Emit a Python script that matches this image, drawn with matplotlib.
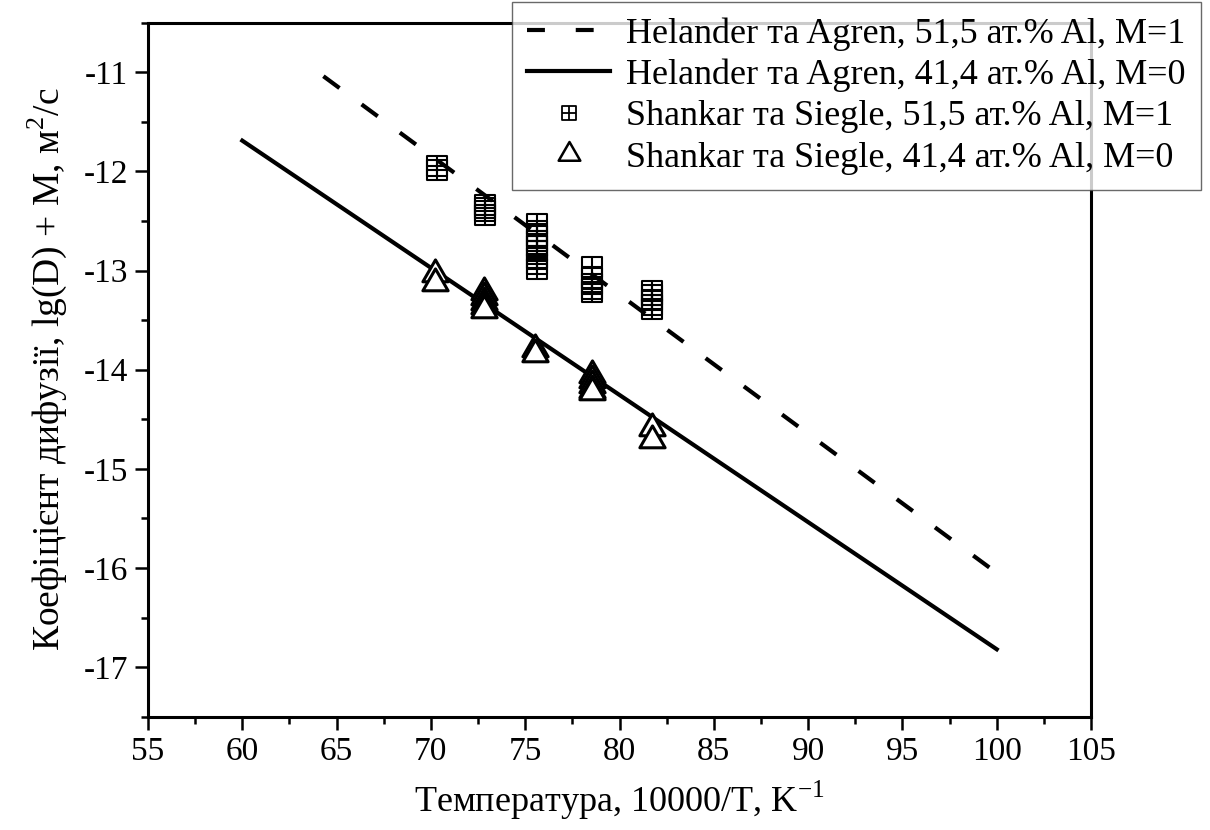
import numpy as np
import matplotlib
matplotlib.use("Agg")
import matplotlib.pyplot as plt
from matplotlib.path import Path
from matplotlib.lines import Line2D
from matplotlib.ticker import MultipleLocator

plt.rcParams['font.family'] = ['Liberation Serif', 'DejaVu Serif']
plt.rcParams['mathtext.fontset'] = 'custom'
plt.rcParams['mathtext.rm'] = 'Liberation Serif'
plt.rcParams['axes.unicode_minus'] = False

# Helander ta Agren model lines (endpoints)
hel_515_x = [64.3, 100.0]
hel_515_y = [-11.04, -16.05]
hel_414_x = [60.0, 100.0]
hel_414_y = [-11.69, -16.82]

# Shankar ta Siegle, 51.5 at.% Al, M=1
sh_515_x = [70.31, 70.31,
            72.87, 72.87, 72.87, 72.87,
            75.61, 75.61, 75.61, 75.61, 75.61, 75.61, 75.61, 75.61, 75.61,
            78.56, 78.56, 78.56, 78.56, 78.56,
            81.74, 81.74, 81.74, 81.74, 81.74]
sh_515_y = [-11.95, -11.99,
            -12.34, -12.37, -12.40, -12.44,
            -12.53, -12.60, -12.65, -12.70, -12.75, -12.80, -12.87, -12.93, -12.98,
            -12.96, -13.08, -13.14, -13.19, -13.22,
            -13.21, -13.25, -13.30, -13.35, -13.39]

# Shankar ta Siegle, 41.4 at.% Al, M=0
sh_414_x = [70.21, 70.21,
            72.82, 72.82, 72.82, 72.82, 72.82,
            75.52, 75.52,
            78.56, 78.56, 78.56, 78.56, 78.56,
            81.74, 81.74]
sh_414_y = [-13.04, -13.13,
            -13.22, -13.27, -13.32, -13.36, -13.40,
            -13.79, -13.84,
            -14.05, -14.10, -14.15, -14.20, -14.23,
            -14.59, -14.71]

# marker shapes
sq_plus = Path([(-1, -1), (1, -1), (1, 1), (-1, 1), (-1, -1),
                (0, -1), (0, 1), (-1, 0), (1, 0)],
               [Path.MOVETO, Path.LINETO, Path.LINETO, Path.LINETO, Path.CLOSEPOLY,
                Path.MOVETO, Path.LINETO, Path.MOVETO, Path.LINETO])
tri = Path([(0, 1), (-0.866, -0.5), (0.866, -0.5), (0, 1)],
           [Path.MOVETO, Path.LINETO, Path.LINETO, Path.CLOSEPOLY])

fig = plt.figure(figsize=(12.1, 8.3), dpi=100)
ax = fig.add_axes([0.1223, 0.1365, 0.7794, 0.8362])

dash = (0, (4.8, 6.6))
ax.plot(hel_515_x, hel_515_y, color='black', lw=3, linestyle=dash, zorder=3)
ax.plot(hel_414_x, hel_414_y, color='black', lw=3, zorder=3)

ax.plot(sh_515_x, sh_515_y, linestyle='none', marker=sq_plus, ms=14,
        mfc='none', mec='black', mew=1.5, zorder=2)
# draw triangles top-to-bottom, each white filled
for xv, yv in zip(sh_414_x, sh_414_y):
    ax.plot([xv], [yv], linestyle='none', marker=tri, ms=21,
            mfc='white', mec='black', mew=2.2, zorder=4)

ax.set_xlim(55, 105)
ax.set_ylim(-17.5, -10.5)
ax.xaxis.set_major_locator(MultipleLocator(5))
ax.xaxis.set_minor_locator(MultipleLocator(2.5))
ax.yaxis.set_major_locator(MultipleLocator(1))
ax.yaxis.set_minor_locator(MultipleLocator(0.5))
ax.tick_params(which='both', direction='out', width=1.8, labelsize=24)
ax.tick_params(which='major', length=9.5, pad=5)
ax.tick_params(which='minor', length=5)
for s in ax.spines.values():
    s.set_linewidth(2.2)

ax.set_xlabel('Температура, 10000/T, K$^{-1}$', fontsize=26, labelpad=8)
ax.set_ylabel('Коефіцієнт дифузії, lg(D) + M, м$^{2}$/с', fontsize=27, labelpad=10)

handles = [
    Line2D([], [], color='black', lw=3, linestyle=(0, (4.3, 7.4))),
    Line2D([], [], color='black', lw=3),
    Line2D([], [], linestyle='none', marker=sq_plus, ms=9.5, mfc='none', mec='black', mew=1.3),
    Line2D([], [], linestyle='none', marker=tri, ms=18, mfc='white', mec='black', mew=1.8),
]
labels = ['Helander та Agren, 51,5 ат.% Al, M=1',
          'Helander та Agren, 41,4 ат.% Al, M=0',
          'Shankar та Siegle, 51,5 ат.% Al, M=1',
          'Shankar та Siegle, 41,4 ат.% Al, M=0']
leg = fig.legend(handles, labels, loc='upper right', bbox_to_anchor=(1201 / 1210, 1 - 2 / 830),
                 fontsize=26, frameon=True, fancybox=False, handlelength=2.3,
                 handletextpad=0.45, labelspacing=0.22, borderpad=0.42, borderaxespad=0)
leg.get_frame().set_edgecolor('#444444')
leg.get_frame().set_linewidth(1.0)
leg.set_zorder(10)

fig.savefig('out.png', dpi=100)
